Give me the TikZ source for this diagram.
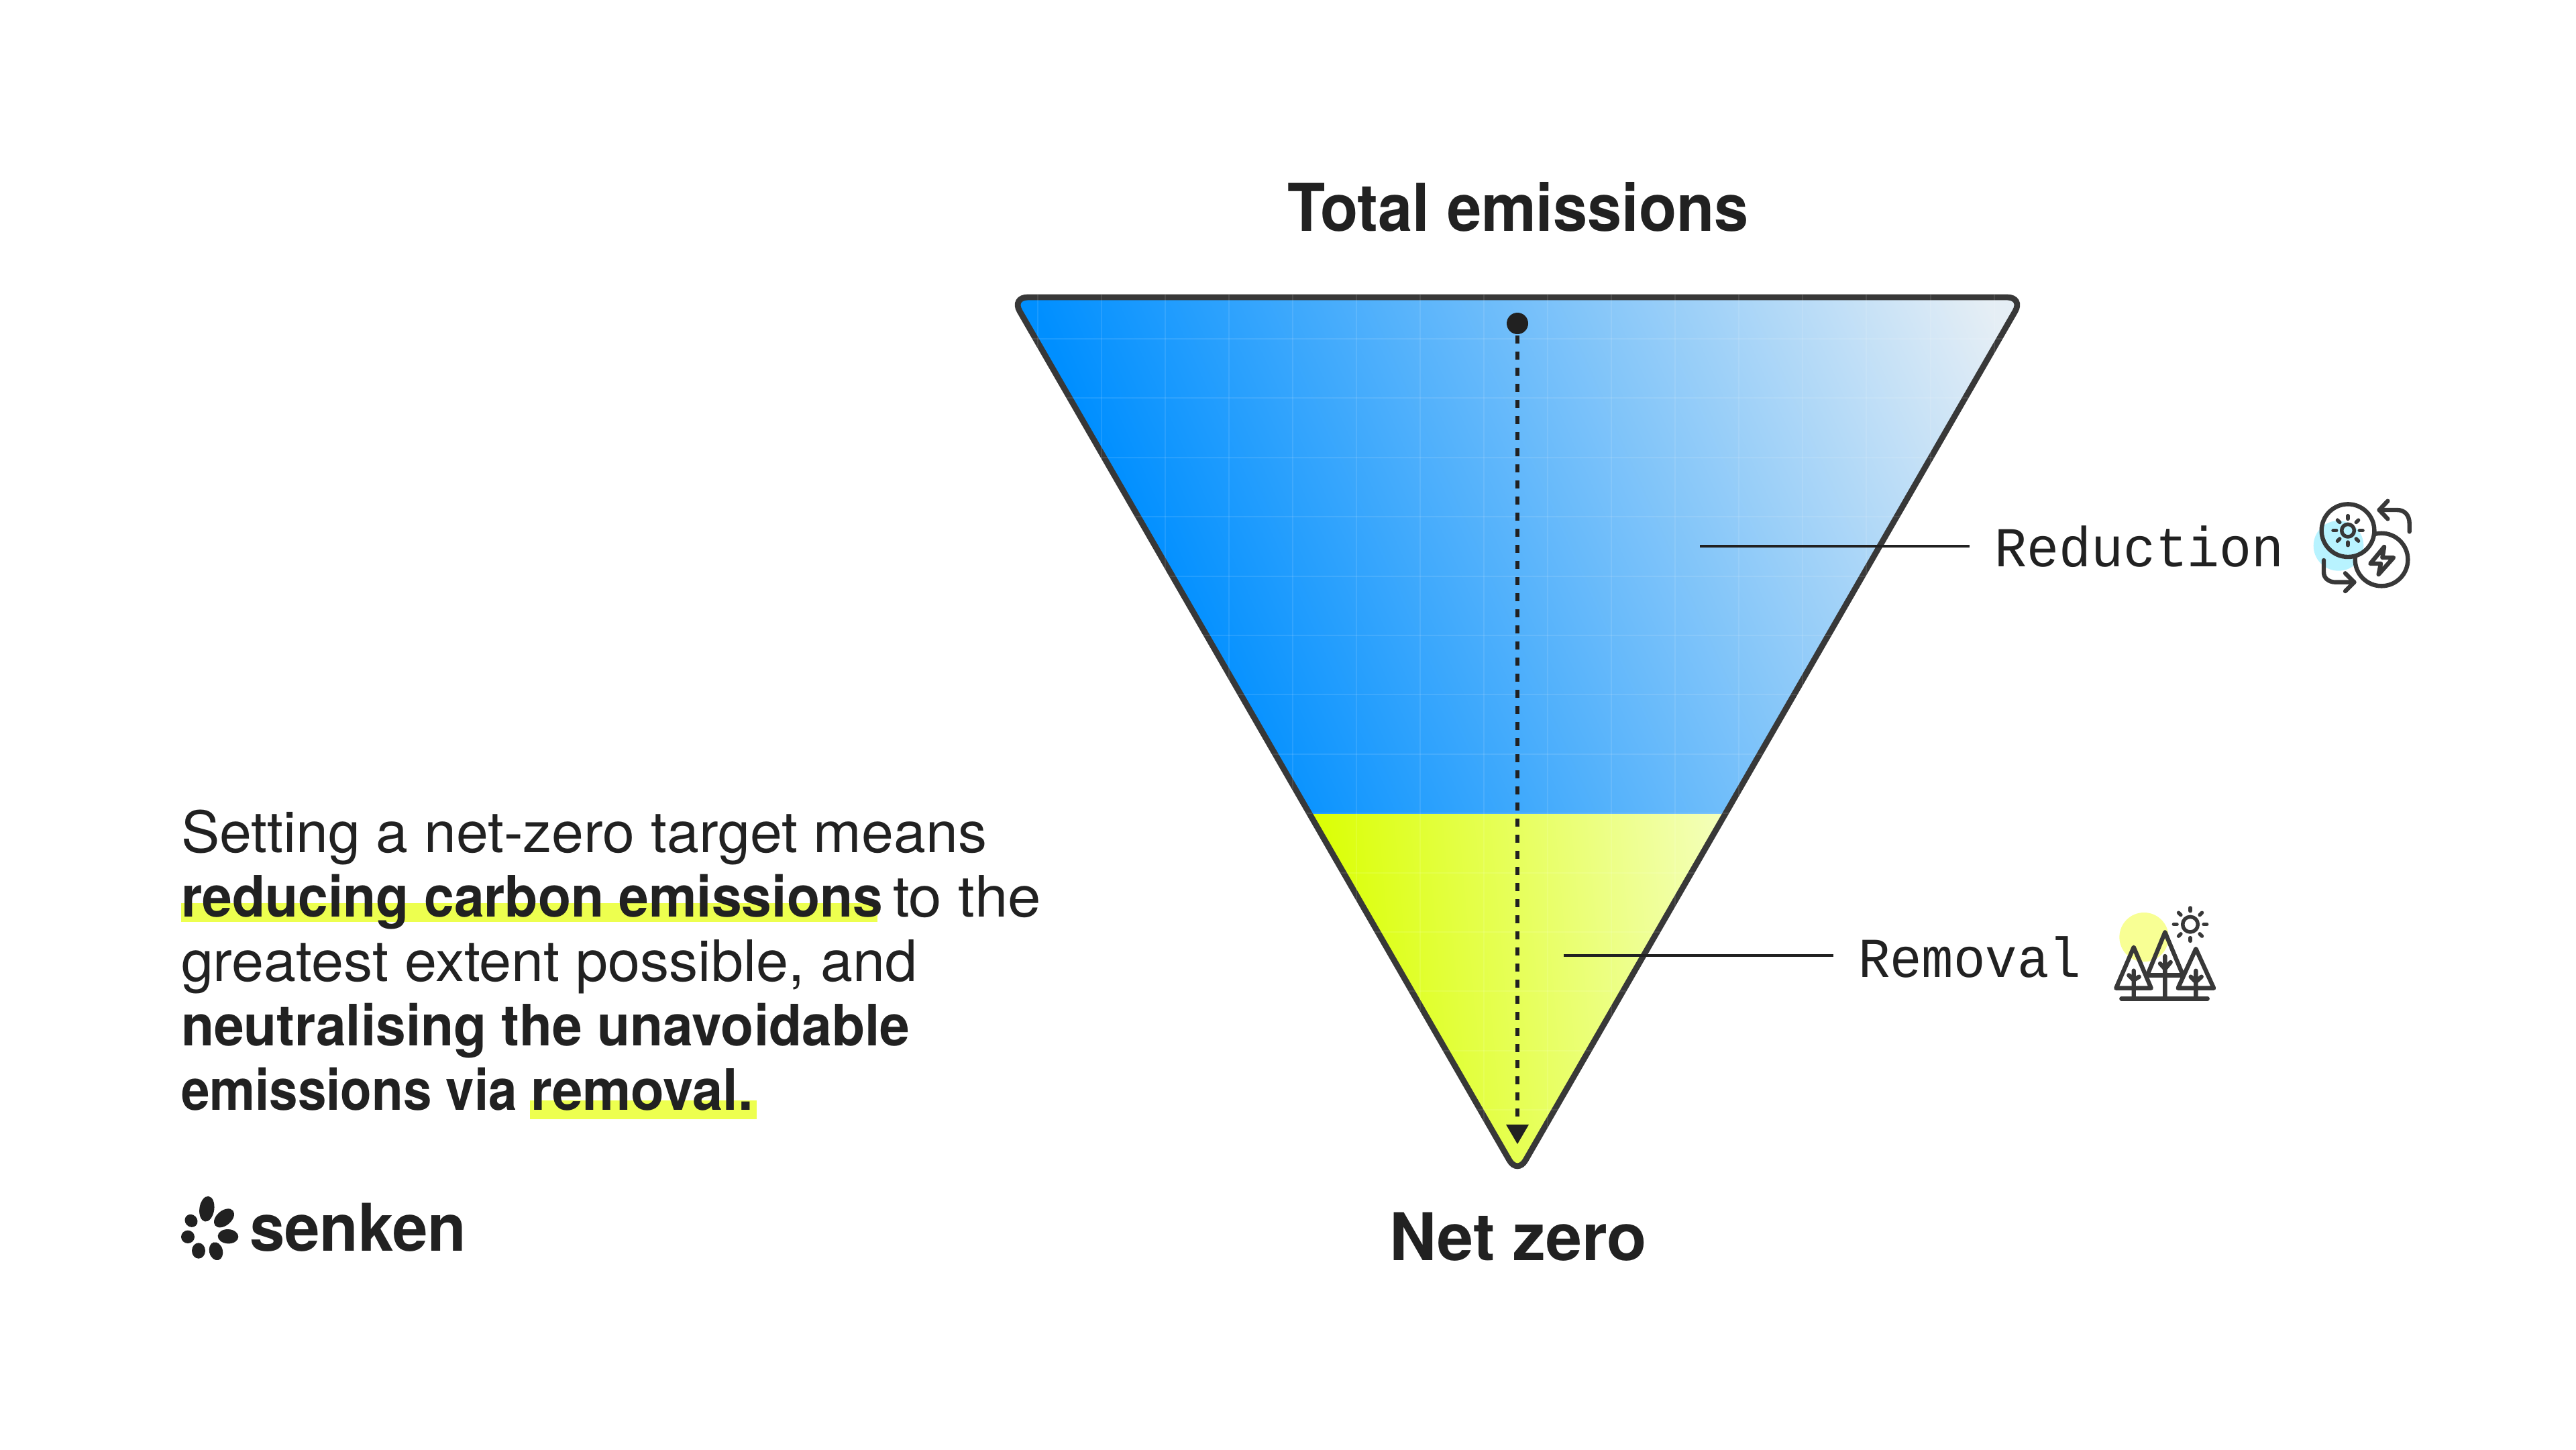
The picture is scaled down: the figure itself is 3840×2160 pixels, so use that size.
\documentclass[tikz,border=0pt]{standalone}
\usepackage{fontspec}
\usepackage{graphicx}
\setmainfont{TeX Gyre Heros}
\newfontfamily\monofam{Liberation Mono}
\usetikzlibrary{calc}
\definecolor{ink}{HTML}{212121}
\definecolor{edge}{HTML}{383838}
\definecolor{hilite}{HTML}{EDFF4F}
\definecolor{cyanblob}{HTML}{B8F3FF}
\definecolor{yellowblob}{HTML}{F8FF94}
\definecolor{blueA}{HTML}{008FFF}
\definecolor{blueB}{HTML}{E5EEF5}
\definecolor{yelA}{HTML}{DAFF00}
\definecolor{yelB}{HTML}{F4FFBB}
\pgfdeclarehorizontalshading{bluesh}{100bp}{color(0bp)=(blueA); color(37.3bp)=(blueA); color(70bp)=(blueB); color(100bp)=(blueB)}
\pgfdeclarehorizontalshading{yelsh}{100bp}{color(0bp)=(yelA); color(42.7bp)=(yelA); color(58.2bp)=(yelB); color(100bp)=(yelB)}
\newlength{\fitlen}
\newcommand{\fitw}[2]{\setlength{\fitlen}{#1pt}\resizebox{0.5\fitlen}{\height}{#2}}
\tikzset{
  txt/.style={inner sep=0pt,outer sep=0pt,anchor=base west,text=ink},
  body/.style={txt,font=\fontsize{42.5}{42.5}\selectfont},
  bodyb/.style={txt,font=\fontsize{42.5}{42.5}\selectfont\bfseries},
  head/.style={txt,font=\fontsize{49}{49}\selectfont\bfseries},
  mono/.style={txt,font=\fontsize{42}{42}\selectfont\monofam},
  leader/.style={draw=ink,line width=2pt},
  ic/.style={draw=edge,line width=3.2pt,line cap=round,line join=round},
  icf/.style={draw=edge,line width=3.2pt,line cap=round,line join=round,fill=white},
  hl/.style={fill=hilite,draw=none},
  zoomed/.style={x=0.166667pt,y=-0.166667pt}
}
\begin{document}
\begin{tikzpicture}[x=0.5pt,y=-0.5pt]
\useasboundingbox (0,0) rectangle (3840,2160);
\fill[white] (0,0) rectangle (3840,2160);
% triangle
\def\tripath{(1508,443) -- (3016,443) -- (2262,1750) -- cycle}
\begin{scope}
  \clip[rounded corners=12pt] \tripath;
  \begin{scope}
    \clip (1400,400) rectangle (3100,1213);
    \shade[shading=bluesh,shading angle=24] (1262,-170) rectangle (3262,1830);
  \end{scope}
  \begin{scope}
    \clip (1400,1213) rectangle (3100,1800);
    \shade[shading=yelsh,shading angle=5] (1262,480) rectangle (3262,2480);
  \end{scope}
\end{scope}
\draw[edge,line width=4.4pt,rounded corners=12pt] \tripath;
\begin{scope}
  \clip[rounded corners=12pt] (1500.5,439) -- (3023.5,439) -- (2262,1758) -- cycle;
  \foreach \k in {0,...,15} \draw[white,opacity=0.10,line width=1pt] ({1546.5+95.07*\k},430) -- ({1546.5+95.07*\k},1760);
  \foreach \k in {0,...,14} \draw[white,opacity=0.10,line width=1pt] (1490,{505+88.4*\k}) -- (3030,{505+88.4*\k});
\end{scope}
% centre axis
\node[circle,fill=ink,minimum size=16pt,inner sep=0pt] (dot) at (2262,482) {};
\coordinate (tiptop) at (2262,1676);
\fill[ink] (2245,1676) -- (2279,1676) -- (2262,1705) -- cycle;
\draw[ink,line width=3pt,dash pattern=on 6pt off 6pt,dash phase=11pt] (dot) -- (tiptop);
% leaders
\coordinate (redA) at (2534,814);
\coordinate (redB) at (2936,814);
\coordinate (remA) at (2331,1424);
\coordinate (remB) at (2733,1424);
\draw[leader] (redA) -- (redB);
\draw[leader] (remA) -- (remB);
% headings
\node[head] (total) at (1919,344) {\fitw{688}{Total emissions}};
\node[head] (net) at (2071,1878) {\fitw{384}{Net zero}};
\node[mono] (reduction) at (2973,844) {\fitw{432}{Reduction}};
\node[mono] (removal) at (2770,1456) {\fitw{332}{Removal}};
% highlights
\fill[hl] (270,1346) rectangle (1308,1374);
\fill[hl] (790,1640) rectangle (1128,1668);
% paragraph
\node[body] (l1) at (270,1270) {\fitw{1201}{Setting a net-zero target means}};
\node[bodyb] (l2a) at (270,1366) {\fitw{1046}{reducing carbon emissions}};
\node[body] (l2b) at (1331,1366) {\fitw{221}{to the}};
\node[body] (l3) at (270,1462) {\fitw{1097}{greatest extent possible, and}};
\node[bodyb] (l4) at (270,1558) {\fitw{1086}{neutralising the unavoidable}};
\node[bodyb] (l5a) at (270,1654) {\fitw{501}{emissions via}};
\node[bodyb] (l5b) at (791,1654) {\fitw{332}{removal.}};
% logo
\begin{scope}[shift={(240,1760)},zoomed]
  \fill[ink,rotate around={82:(205,125)}] (205,125) ellipse [x radius=57,y radius=33];
  \fill[ink,rotate around={40:(282,166)}] (282,166) ellipse [x radius=52,y radius=33];
  \fill[ink,rotate around={-3:(300,248)}] (300,248) ellipse [x radius=46,y radius=32];
  \fill[ink,rotate around={-75:(246,314)}] (246,314) ellipse [x radius=41,y radius=30];
  \fill[ink,rotate around={90:(168,312)}] (168,312) ellipse [x radius=35,y radius=30];
  \fill[ink] (120,250) ellipse [x radius=30,y radius=29];
  \fill[ink,rotate around={-45:(135,178)}] (135,178) ellipse [x radius=30,y radius=27];
\end{scope}
\node[txt,font=\fontsize{49}{49}\selectfont\bfseries] (senken) at (372,1864) {\fitw{323}{senken}};
% reduction icon
\begin{scope}[shift={(3350,700)},zoomed]
  \fill[cyanblob] (408,340) circle [radius=112];
  \draw[icf] (600,402) circle [radius=118];
  \fill[white] (450,272) circle [radius=118];
  \begin{scope}
    \clip (450,272) circle [radius=118];
    \fill[cyanblob] (408,340) circle [radius=112];
  \end{scope}
  \draw[ic] (450,272) circle [radius=118];
  \draw[ic,line width=2.75pt] (450,272) circle [radius=28];
  \foreach \a in {0,45,...,315} \draw[ic,line width=2.75pt,shift={(450,272)}] (\a:52) -- (\a:66);
  \draw[ic] (612,345) -- (550,420) -- (597,420) -- (587,468) -- (654,393) -- (604,393) -- cycle;
  \draw[ic] (725,277) -- (725,240) .. controls (725,205) and (705,180) .. (670,180) -- (590,180);
  \draw[ic] (628,140) -- (590,180) -- (628,220);
  \draw[ic] (342,405) -- (342,460) .. controls (342,485) and (365,503) .. (395,503) -- (478,503);
  \draw[ic] (438,463) -- (478,503) -- (438,543);
\end{scope}
% removal icon
\begin{scope}[shift={(3100,1310)},zoomed]
  \fill[yellowblob] (288,260) circle [radius=110];
  \draw[ic,line width=2.75pt] (495,203) circle [radius=34];
  \foreach \a in {0,45,...,315} \draw[ic,line width=2.75pt,shift={(495,203)}] (\a:60) -- (\a:74);
  \draw[ic] (242,305) -- (163,488) -- (320,488) -- cycle;
  \draw[ic] (382,238) -- (305,425) (382,238) -- (460,425);
  \draw[ic] (305,430) -- (460,430);
  \draw[ic] (520,312) -- (440,488) -- (600,488) -- cycle;
  \draw[ic] (242,410) -- (242,535) (220,430) -- (242,452) -- (266,437);
  \draw[ic] (382,345) -- (382,535) (360,378) -- (382,402) -- (407,372);
  \draw[ic] (520,410) -- (520,535) (497,437) -- (520,460) -- (545,437);
  \draw[ic] (187,535) -- (572,535);
\end{scope}
\end{tikzpicture}
\end{document}
